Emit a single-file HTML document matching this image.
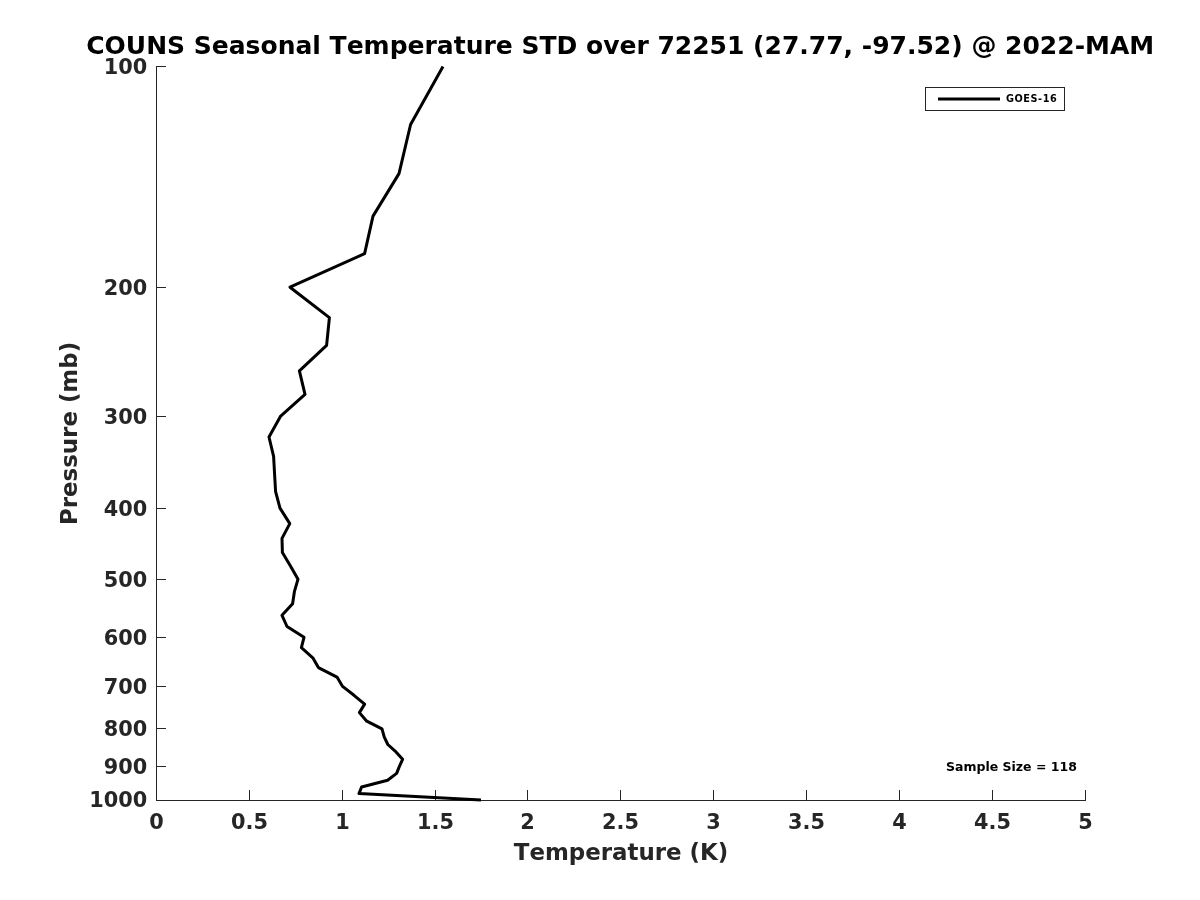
<!DOCTYPE html>
<html lang="en">
<head>
<meta charset="utf-8">
<title>COUNS Seasonal Temperature STD</title>
<style>
html,body{margin:0;padding:0;background:#fff;}
body{width:1200px;height:900px;overflow:hidden;}
svg{display:block;}
svg text{font-family:"DejaVu Sans","Liberation Sans",sans-serif;font-weight:bold;font-kerning:none;font-feature-settings:"kern" 0;}
.tick{font-size:20.83px;fill:#262626;}
.lab{font-size:22.92px;fill:#262626;}
.ttl{font-size:25px;fill:#000;}
.ax{stroke:#262626;stroke-width:1;fill:none;shape-rendering:crispEdges;}
</style>
</head>
<body>
<svg width="1200" height="900" viewBox="0 0 1200 900">
<rect x="0" y="0" width="1200" height="900" fill="#ffffff"/>
<text class="ttl" x="620.2" y="53.7" text-anchor="middle">COUNS Seasonal Temperature STD over 72251 (27.77, -97.52) @ 2022-MAM</text>
<g fill="#262626" shape-rendering="crispEdges">
<rect x="156" y="66" width="1" height="735"/>
<rect x="156" y="800" width="930" height="1"/>
<rect x="156" y="790" width="1" height="10"/>
<rect x="249" y="790" width="1" height="10"/>
<rect x="342" y="790" width="1" height="10"/>
<rect x="435" y="790" width="1" height="10"/>
<rect x="527" y="790" width="1" height="10"/>
<rect x="620" y="790" width="1" height="10"/>
<rect x="713" y="790" width="1" height="10"/>
<rect x="806" y="790" width="1" height="10"/>
<rect x="899" y="790" width="1" height="10"/>
<rect x="992" y="790" width="1" height="10"/>
<rect x="1085" y="790" width="1" height="10"/>
<rect x="157" y="66" width="9" height="1"/>
<rect x="157" y="287" width="9" height="1"/>
<rect x="157" y="416" width="9" height="1"/>
<rect x="157" y="508" width="9" height="1"/>
<rect x="157" y="579" width="9" height="1"/>
<rect x="157" y="637" width="9" height="1"/>
<rect x="157" y="686" width="9" height="1"/>
<rect x="157" y="728" width="9" height="1"/>
<rect x="157" y="766" width="9" height="1"/>
<rect x="157" y="800" width="9" height="1"/>
</g>
<g class="tick" text-anchor="middle">
<text x="156.5" y="828.6">0</text>
<text x="249.5" y="828.6">0.5</text>
<text x="342.5" y="828.6">1</text>
<text x="435.5" y="828.6">1.5</text>
<text x="527.5" y="828.6">2</text>
<text x="620.5" y="828.6">2.5</text>
<text x="713.5" y="828.6">3</text>
<text x="806.5" y="828.6">3.5</text>
<text x="899.5" y="828.6">4</text>
<text x="992.5" y="828.6">4.5</text>
<text x="1085.5" y="828.6">5</text>
</g>
<g class="tick" text-anchor="end">
<text x="147.2" y="74.1">100</text>
<text x="147.2" y="295.1">200</text>
<text x="147.2" y="424.3">300</text>
<text x="147.2" y="515.7">400</text>
<text x="147.2" y="587.1">500</text>
<text x="147.2" y="645.3">600</text>
<text x="147.2" y="694.4">700</text>
<text x="147.2" y="736.0">800</text>
<text x="147.2" y="773.8">900</text>
<text x="147.2" y="807.1">1000</text>
</g>
<text class="lab" x="621" y="859.6" text-anchor="middle">Temperature (K)</text>
<text class="lab" transform="translate(77 433.5) rotate(-90)" text-anchor="middle">Pressure (mb)</text>
<polyline points="443.0,66.4 410.6,124.5 399.0,173.6 373.0,216.1 364.6,253.7 290.0,287.2 329.4,317.6 326.6,345.3 299.4,370.8 305.0,394.4 280.4,416.4 269.0,437.0 273.6,456.3 274.6,474.5 275.6,491.7 280.0,508.1 289.8,523.6 282.0,538.4 282.4,552.6 290.6,566.2 298.0,579.2 294.4,591.7 292.6,603.7 282.0,615.3 287.0,626.5 304.0,637.3 301.4,647.7 312.8,657.8 318.4,667.6 337.0,677.1 342.6,686.4 354.0,695.3 364.6,704.1 359.4,712.6 366.3,720.8 382.0,728.9 384.2,736.8 387.8,744.5 396.0,751.9 402.6,759.3 399.4,766.4 396.6,773.4 387.6,780.3 361.6,787.0 359.0,793.6 481.0,800.0" fill="none" stroke="#000" stroke-width="3" stroke-linejoin="round" stroke-linecap="butt"/>
<rect x="925.5" y="87.5" width="139" height="23" fill="#fff" stroke="#262626" stroke-width="1" shape-rendering="crispEdges"/>
<line x1="938" y1="99" x2="1000" y2="99" stroke="#000" stroke-width="3"/>
<text x="1005.9" y="102.4" font-size="9.72px" letter-spacing="0.57" fill="#000">GOES-16</text>
<text x="946" y="771" font-size="12.5px" fill="#000">Sample Size = 118</text>
</svg>
</body>
</html>
